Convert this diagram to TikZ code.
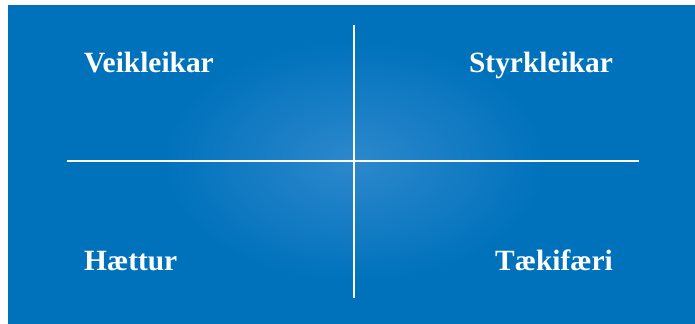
\documentclass[tikz,border=0pt]{standalone}
\usepackage{fontspec}
\setmainfont{Liberation Serif}
\definecolor{SwotBlue}{RGB}{0, 114, 188}
\definecolor{SwotGlow}{RGB}{45, 136, 204}

\begin{document}
\begin{tikzpicture}[
    x=1bp, y=-1bp,
    quad/.style={text=white, inner sep=0pt, font=\fontsize{29.5}{31}\selectfont\bfseries},
    axis/.style={white, line width=2bp}
]
    \useasboundingbox (0,0) rectangle (695,323);
    \fill[SwotBlue] (8,5) rectangle (705,333);
    \begin{scope}
        \clip (8,5) rectangle (705,333);
        \shade[inner color=SwotGlow, outer color=SwotBlue] (354,161) ellipse [x radius=190, y radius=120];
    \end{scope}

    \coordinate (top) at (354,25);
    \coordinate (bottom) at (354,298);
    \coordinate (left) at (67,161);
    \coordinate (right) at (639,161);

    \draw[axis] (top) -- (bottom);
    \draw[axis] (left) -- (right);

    \node[quad, anchor=base west] (weak) at (84,72.5) {Veikleikar};
    \node[quad, anchor=base east] (strong) at (613,72.5) {Styrkleikar};
    \node[quad, anchor=base west] (threat) at (84,270) {Hættur};
    \node[quad, anchor=base east] (chance) at (613,270) {Tækifæri};
\end{tikzpicture}
\end{document}
